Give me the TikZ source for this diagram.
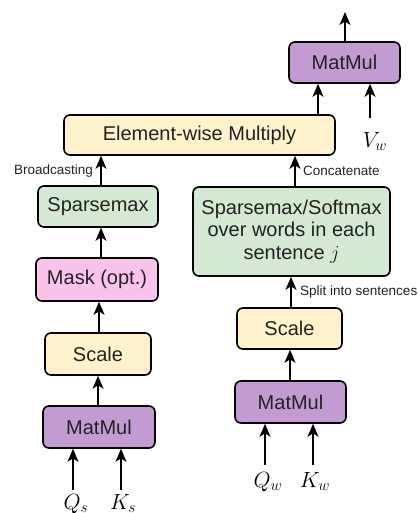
\documentclass[tikz,border=0pt]{standalone}
\usepackage{fix-cm}
\usepackage{fontspec}
\setmainfont{Liberation Sans}
\usetikzlibrary{arrows.meta}
\definecolor{cpurple}{HTML}{C39BD3}
\definecolor{cyellow}{HTML}{FFF2CC}
\definecolor{cgreen}{HTML}{D5E8D4}
\definecolor{cpink}{HTML}{FAC3EB}
\definecolor{ctext}{HTML}{222222}
\begin{document}
\begin{tikzpicture}[x=1pt,y=-1pt,
  box/.style={draw=black, line width=1.6pt, rounded corners=6pt, inner sep=0pt,
    text=ctext, font=\fontsize{20}{22.5}\selectfont, align=center},
  arr/.style={line width=1.6pt, -{Stealth[length=13pt,width=11pt,inset=3.5pt]}},
  lab/.style={font=\fontsize{13.5}{15}\selectfont, text=ctext, inner sep=0pt},
  mlab/.style={font=\fontsize{22}{24}\selectfont, inner sep=0pt, text=black, anchor=north}]
\useasboundingbox (0,0) rectangle (417,513);
% boxes
\node[box, fill=cpurple, minimum width=111pt, minimum height=41pt] (mm3) at (344.5,62.5) {MatMul};
\node[box, fill=cyellow, minimum width=271pt, minimum height=40pt] (ew) at (199.5,135) {Element-wise Multiply};
\node[box, fill=cgreen, minimum width=120pt, minimum height=41pt] (sp) at (98,206.5) {Sparsemax};
\node[box, fill=cgreen, minimum width=197pt, minimum height=89pt] (big) at (291.5,231.5) {Sparsemax/Softmax\\over words in each\\sentence $j$};
\node[box, fill=cpink, minimum width=122pt, minimum height=43pt] (mask) at (97,279.5) {Mask (opt.)};
\node[box, fill=cyellow, minimum width=106pt, minimum height=42pt] (scL) at (98,354) {Scale};
\node[box, fill=cpurple, minimum width=112pt, minimum height=42pt] (mmL) at (99,427) {MatMul};
\node[box, fill=cyellow, minimum width=105pt, minimum height=41pt] (scR) at (289.5,328.5) {Scale};
\node[box, fill=cpurple, minimum width=111pt, minimum height=42pt] (mmR) at (290.5,402) {MatMul};
% column coordinates
\coordinate (out) at (345,12);
\coordinate (c318) at (318,0);
\coordinate (vwin) at (370,118);
\coordinate (c101) at (101,0);
\coordinate (c99) at (99,0);
\coordinate (c98) at (98,0);
\coordinate (c295) at (295,0);
\coordinate (c291) at (291,0);
\coordinate (c290) at (290,0);
\coordinate (qsin) at (73,490);
\coordinate (ksin) at (121,490);
\coordinate (qwin) at (265,465);
\coordinate (kwin) at (313,465);
% labels
\node[mlab] (vw) at (375,132) {$V_w$};
\node[mlab] (qs) at (76,494) {$Q_s$};
\node[mlab] (ks) at (123,494) {$K_s$};
\node[mlab] (qw) at (268,472) {$Q_w$};
\node[mlab] (kw) at (315,472) {$K_w$};
\node[lab, anchor=east] (bc) at (93,171) {Broadcasting};
\node[lab, anchor=west] (cc) at (303,171) {Concatenate};
\node[lab, anchor=west] (st) at (300,292) {Split into sentences};
% arrows
\draw[arr] (mm3.north -| out) -- (out);
\draw[arr] (ew.north -| c318) -- (mm3.south -| c318);
\draw[arr] (vwin) -- (mm3.south -| vwin);
\draw[arr] (sp.north -| c101) -- (ew.south -| c101);
\draw[arr] (big.north -| c295) -- (ew.south -| c295);
\draw[arr] (mask.north -| c101) -- (sp.south -| c101);
\draw[arr] (scL.north -| c99) -- (mask.south -| c99);
\draw[arr] (mmL.north -| c98) -- (scL.south -| c98);
\draw[arr] (qsin) -- (mmL.south -| qsin);
\draw[arr] (ksin) -- (mmL.south -| ksin);
\draw[arr] (scR.north -| c291) -- (big.south -| c291);
\draw[arr] (mmR.north -| c290) -- (scR.south -| c290);
\draw[arr] (qwin) -- (mmR.south -| qwin);
\draw[arr] (kwin) -- (mmR.south -| kwin);
\end{tikzpicture}
\end{document}
